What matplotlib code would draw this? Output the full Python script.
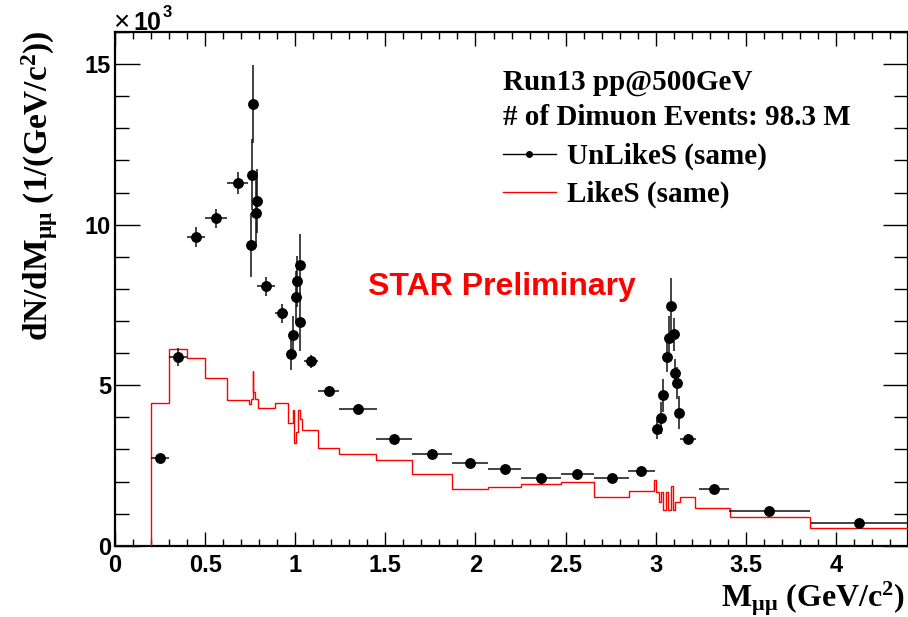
import numpy as np
import matplotlib
matplotlib.use("Agg")
from matplotlib import pyplot as plt
from matplotlib.lines import Line2D
from matplotlib.ticker import MultipleLocator

plt.rcParams['mathtext.fontset'] = 'custom'
plt.rcParams['mathtext.rm'] = 'Liberation Serif:bold'
plt.rcParams['mathtext.it'] = 'Liberation Serif:bold'
plt.rcParams['mathtext.bf'] = 'Liberation Serif:bold'

# unlike-sign pairs: bin centre, half width, yield (x1e3), error (x1e3)
unlike_x = [0.25, 0.35, 0.45, 0.56, 0.68,
            0.752, 0.759, 0.768, 0.780, 0.786,
            0.84, 0.925,
            0.976, 0.987, 1.004, 1.011, 1.024, 1.029,
            1.087, 1.185, 1.348, 1.55, 1.76, 1.97, 2.162, 2.365, 2.565, 2.755, 2.92,
            3.007, 3.028, 3.040, 3.065, 3.074, 3.083, 3.102, 3.106, 3.120, 3.128,
            3.18, 3.325, 3.63, 4.13]
unlike_xerr = [0.05, 0.05, 0.05, 0.06, 0.06,
               0.005, 0.005, 0.005, 0.005, 0.005,
               0.05, 0.035,
               0.005, 0.005, 0.005, 0.005, 0.005, 0.005,
               0.038, 0.06, 0.103, 0.1, 0.11, 0.1, 0.093, 0.11, 0.09, 0.098, 0.074,
               0.005, 0.005, 0.005, 0.005, 0.005, 0.005, 0.005, 0.005, 0.005, 0.005,
               0.045, 0.083, 0.225, 0.27]
unlike_y = [2.74, 5.87, 9.62, 10.2, 11.3,
            9.36, 11.56, 13.76, 10.36, 10.75,
            8.08, 7.24,
            5.96, 6.55, 7.76, 8.24, 8.76, 6.96,
            5.74, 4.82, 4.26, 3.34, 2.86, 2.58, 2.40, 2.12, 2.22, 2.12, 2.33,
            3.63, 3.98, 4.68, 5.87, 6.46, 7.48, 6.58, 5.38, 5.06, 4.15,
            3.32, 1.78, 1.08, 0.70]
unlike_yerr = [0.12, 0.28, 0.3, 0.3, 0.33,
               1.0, 1.1, 1.2, 1.05, 1.0,
               0.3, 0.3,
               0.5, 0.6, 0.8, 0.8, 0.95, 0.9,
               0.2, 0.15, 0.1, 0.08, 0.07, 0.06, 0.06, 0.06, 0.06, 0.06, 0.08,
               0.3, 0.5, 0.5, 0.47, 0.7, 0.85, 0.5, 0.45, 0.5, 0.5,
               0.15, 0.08, 0.05, 0.04]

# like-sign pairs as a step histogram (x1e3)
like_edges = [0.0, 0.2, 0.3, 0.4, 0.5, 0.62, 0.744,
              0.754, 0.763, 0.768, 0.777, 0.796, 0.887, 0.957,
              0.985, 0.995, 1.005, 1.015, 1.025, 1.037, 1.125, 1.245,
              1.45, 1.65, 1.87, 2.07, 2.255, 2.475, 2.655, 2.85, 2.99,
              3.004, 3.018, 3.03, 3.04, 3.056, 3.068, 3.078, 3.087, 3.096, 3.106,
              3.133, 3.217, 3.41, 3.855, 4.45]
like_y = [0.0, 4.44, 6.14, 5.86, 5.22, 4.55,
          4.42, 4.56, 5.43, 4.80, 4.56, 4.28, 4.45, 3.82,
          4.24, 3.20, 3.55, 4.24, 3.95, 3.61, 3.06,
          2.87, 2.67, 2.25, 1.76, 1.84, 1.91, 1.97, 1.53, 1.69,
          2.05, 1.68, 1.35, 1.68, 1.10, 1.68, 1.10, 1.10, 1.85, 1.10, 1.35,
          1.51, 1.19, 0.88, 0.54]

fig = plt.figure(figsize=(9.08, 6.17), dpi=100)
ax = fig.add_axes([0.1267, 0.1155, 0.8733, 0.8325])

ax.stairs(like_y, like_edges, baseline=None, color='#ff0000', lw=1.0, zorder=2.6)
ax.errorbar(unlike_x, unlike_y, xerr=unlike_xerr, yerr=unlike_yerr, fmt='o',
            ms=6.8, color='black', ecolor='#111111', elinewidth=1.1, capsize=0, zorder=3)

ax.set_xlim(0, 4.4)
ax.set_ylim(0, 16)
ax.xaxis.set_major_locator(MultipleLocator(0.5))
ax.xaxis.set_minor_locator(MultipleLocator(0.1))
ax.yaxis.set_major_locator(MultipleLocator(5))
ax.yaxis.set_minor_locator(MultipleLocator(1))
ax.tick_params(which='both', direction='in', top=True, right=True, width=1.0)
ax.tick_params(axis='x', which='major', length=10, pad=6)
ax.tick_params(axis='x', which='minor', length=5)
ax.tick_params(axis='y', which='major', length=18, pad=3)
ax.tick_params(axis='y', which='minor', length=10)
ax.tick_params(axis='both', labelsize=17)
ax.set_xticks([0, 0.5, 1, 1.5, 2, 2.5, 3, 3.5, 4])
ax.set_xticklabels(['0', '0.5', '1', '1.5', '2', '2.5', '3', '3.5', '4'])
for lbl in ax.get_xticklabels() + ax.get_yticklabels():
    lbl.set_fontfamily('Liberation Sans')
    lbl.set_fontweight('bold')
for sp in ax.spines.values():
    sp.set_linewidth(1.6)

# axis titles
fig.text(0.997, 0.017, r'M$_{\mathrm{\mu\mu}}$ (GeV/c$^{2}$)', ha='right', va='baseline',
         fontsize=23, family='Liberation Serif', weight='bold')
fig.text(0.044, 0.951, r'dN/dM$_{\mathrm{\mu\mu}}$ (1/(GeV/c$^{2}$))', ha='center', va='top',
         rotation=90, fontsize=24, family='Liberation Serif', weight='bold')

# exponent of the y axis
fig.text(0.1245, 0.9514, '×', fontsize=20, family='Liberation Sans')
fig.text(0.1465, 0.9514, '10', fontsize=18, family='Liberation Sans', weight='bold')
fig.text(0.1795, 0.9724, '3', fontsize=12, family='Liberation Sans', weight='bold')

ax.text(0.489, 0.9027, 'Run13 pp@500GeV', transform=ax.transAxes, fontsize=21,
        family='Liberation Serif', weight='bold', va='center')
ax.text(0.489, 0.8345, '# of Dimuon Events: 98.3 M', transform=ax.transAxes, fontsize=21,
        family='Liberation Serif', weight='bold', va='center')

handles = [Line2D([], [], color='black', lw=1.0, marker='o', ms=4),
           Line2D([], [], color='#ff0000', lw=1.0)]
ax.legend(handles, ['UnLikeS (same)', 'LikeS (same)'], loc='upper left',
          bbox_to_anchor=(0.489, 0.784), frameon=False, handlelength=1.83,
          handletextpad=0.38, labelspacing=0.36, borderpad=0, borderaxespad=0,
          prop={'family': 'Liberation Serif', 'weight': 'bold', 'size': 21})

ax.text(0.488, 0.503, 'STAR Preliminary', transform=ax.transAxes, color='#ff0000',
        fontsize=23, family='Liberation Sans', weight='bold', ha='center', va='center')

fig.savefig('out.png', dpi=100)
